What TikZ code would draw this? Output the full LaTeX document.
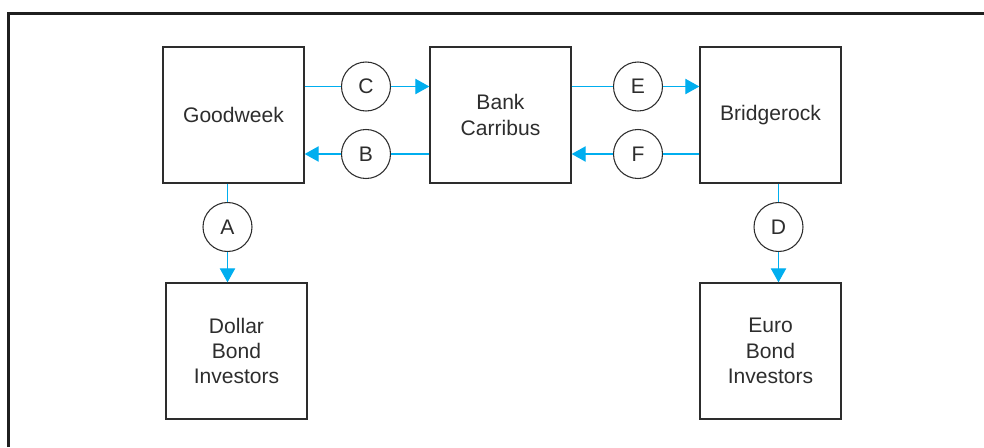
\documentclass[tikz,border=0pt]{standalone}
\usepackage{fontspec}
\setmainfont{Liberation Sans}
\usetikzlibrary{arrows.meta}
\definecolor{flowblue}{RGB}{0,174,239}
\definecolor{boxgray}{RGB}{45,45,45}
\tikzset{
  party/.style={draw=boxgray, line width=1pt, rectangle, minimum width=105.75pt, minimum height=102pt, inner sep=0pt, align=center, font=\fontsize{15.8}{19}\selectfont, text=boxgray},
  tag/.style={draw=boxgray, line width=0.8pt, circle, minimum size=36.75pt, inner sep=0pt, font=\fontsize{15.8}{19}\selectfont, text=boxgray},
  conn/.style={draw=flowblue, line width=0.9pt},
  connarrow/.style={conn, -{Triangle[length=10.5pt,width=11.5pt]}}
}
\begin{document}
\begin{tikzpicture}[x=0.75pt,y=-0.75pt]
\useasboundingbox (0,0) rectangle (984,447);
% frame
\draw[line width=2.3pt, black!88] (8.3,447) -- (8.3,13.2) -- (984,13.2);
% parties
\node[party] (gw) at (233.5,115) {Goodweek};
\node[party] (bank) at (500.5,115) {Bank\\Carribus};
\node[party] (br) at (770.5,115) {Bridgerock};
\node[party] (dol) at (236.5,351) {Dollar\\Bond\\Investors};
\node[party] (eur) at (770.5,351) {Euro\\Bond\\Investors};
% tags
\node[tag] (C) at (366,86.5) {C};
\node[tag] (B) at (366,154) {B};
\node[tag] (E) at (638,86.5) {E};
\node[tag] (F) at (638,154) {F};
\node[tag] (A) at (227.5,227) {A};
\node[tag] (D) at (778.5,227) {D};
% flows
\draw[conn] (gw.east |- C.center) -- (C);
\draw[connarrow] (C) -- (bank.west |- C.center);
\draw[conn] (bank.west |- B.center) -- (B);
\draw[connarrow] (B) -- (gw.east |- B.center);
\draw[conn] (bank.east |- E.center) -- (E);
\draw[connarrow] (E) -- (br.west |- E.center);
\draw[conn] (br.west |- F.center) -- (F);
\draw[connarrow] (F) -- (bank.east |- F.center);
\draw[conn] (gw.south -| A.center) -- (A);
\draw[connarrow] (A) -- (dol.north -| A.center);
\draw[conn] (br.south -| D.center) -- (D);
\draw[connarrow] (D) -- (eur.north -| D.center);
\end{tikzpicture}
\end{document}
